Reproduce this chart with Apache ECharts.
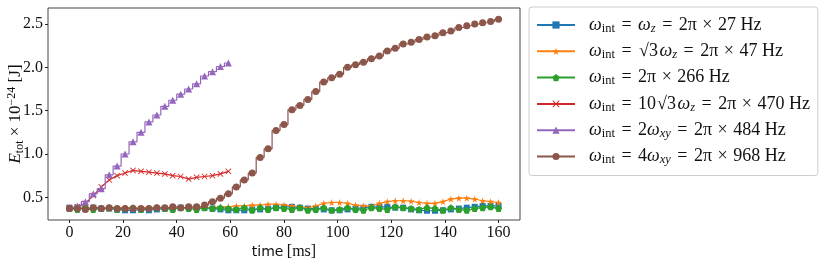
<!DOCTYPE html>
<html><head><meta charset="utf-8">
<script src="https://cdn.jsdelivr.net/npm/echarts@6/dist/echarts.min.js"></script>
<style>html,body{margin:0;padding:0;background:#fff}#c{width:830px;height:261px}</style>
</head><body><div id="c"></div>
<script>
// time grid (ms) of the marked samples
const times = [0,2.96,5.93,8.89,11.85,14.81,17.78,20.74,23.70,26.67,29.63,32.59,35.56,38.52,41.48,44.44,47.41,50.37,53.33,56.30,59.26,62.22,65.19,68.15,71.11,74.07,77.04,80.00,82.96,85.93,88.89,91.85,94.81,97.78,100.74,103.70,106.67,109.63,112.59,115.56,118.52,121.48,124.44,127.41,130.37,133.33,136.30,139.26,142.22,145.19,148.15,151.11,154.07,157.04,160.00];
const xTicks = [0,20,40,60,80,100,120,140,160];
const yTicks = [0.5,1.0,1.5,2.0,2.5];

const blue = [0.38,0.38,0.37,0.38,0.37,0.37,0.36,0.35,0.35,0.36,0.35,0.36,0.37,0.37,0.38,0.38,0.38,0.38,0.37,0.36,0.35,0.35,0.35,0.36,0.36,0.37,0.38,0.39,0.39,0.38,0.37,0.37,0.36,0.35,0.35,0.36,0.37,0.38,0.39,0.39,0.39,0.38,0.38,0.36,0.35,0.345,0.345,0.35,0.36,0.37,0.38,0.39,0.40,0.40,0.40];
const orange = [0.38,0.38,0.37,0.38,0.38,0.37,0.38,0.38,0.37,0.38,0.38,0.38,0.38,0.38,0.38,0.38,0.38,0.38,0.38,0.39,0.39,0.40,0.40,0.41,0.41,0.42,0.42,0.41,0.40,0.39,0.38,0.40,0.43,0.44,0.44,0.43,0.41,0.40,0.40,0.43,0.45,0.46,0.46,0.455,0.44,0.43,0.43,0.45,0.48,0.49,0.49,0.48,0.46,0.45,0.44];
const green = [0.37,0.36,0.38,0.36,0.37,0.38,0.36,0.37,0.38,0.36,0.37,0.38,0.37,0.36,0.38,0.37,0.36,0.38,0.37,0.38,0.37,0.36,0.38,0.35,0.38,0.36,0.38,0.37,0.36,0.38,0.35,0.36,0.38,0.35,0.36,0.38,0.36,0.35,0.38,0.37,0.36,0.39,0.38,0.37,0.36,0.38,0.37,0.35,0.38,0.36,0.35,0.37,0.38,0.39,0.37];
const red = [0.38,0.39,0.43,0.52,0.62,0.70,0.75,0.78,0.81,0.80,0.79,0.78,0.77,0.75,0.74,0.71,0.73,0.74,0.75,0.77,0.80];
const purple = [0.38,0.40,0.45,0.54,0.60,0.76,0.86,1.00,1.14,1.25,1.37,1.45,1.55,1.62,1.69,1.75,1.81,1.90,1.95,2.01,2.05];
const brown = [0.37,0.37,0.36,0.38,0.37,0.38,0.37,0.37,0.37,0.37,0.37,0.38,0.38,0.39,0.38,0.39,0.39,0.41,0.45,0.49,0.54,0.62,0.70,0.78,0.96,1.06,1.27,1.34,1.51,1.56,1.63,1.72,1.83,1.88,1.92,2.00,2.03,2.06,2.10,2.13,2.19,2.22,2.27,2.29,2.32,2.35,2.365,2.40,2.42,2.46,2.48,2.50,2.515,2.53,2.555];

const names = ['s1','s2','s3','s4','s5','s6'];
const legendText = {
  s1: '{i|ω}{s|int}{o|=}{i|ω}{s2|z}{o|=}{r|2π}{x|×}{r|27 Hz}',
  s2: '{i|ω}{s|int}{o|=}{q|√3}{i|ω}{s2|z}{o|=}{r|2π}{x|×}{r|47 Hz}',
  s3: '{i|ω}{s|int}{o|=}{r|2π}{x|×}{r|266 Hz}',
  s4: '{i|ω}{s|int}{o|=}{r|10}{q|√3}{i|ω}{s2|z}{o|=}{r|2π}{x|×}{r|470 Hz}',
  s5: '{i|ω}{s|int}{o|=}{r|2}{i|ω}{s2|xy}{o|=}{r|2π}{x|×}{r|484 Hz}',
  s6: '{i|ω}{s|int}{o|=}{r|4}{i|ω}{s2|xy}{o|=}{r|2π}{x|×}{r|968 Hz}'
};
const colors = ['#1f77b4','#ff7f0e','#2ca02c','#d62728','#9467bd','#8c564b'];
const symbols = [
  'rect',
  'path://M50,0 L61,35 L98,35 L68,57 L79,91 L50,70 L21,91 L32,57 L2,35 L39,35 Z',
  'path://M50,0 L98,35 L79,91 L21,91 L2,35 Z',
  'path://M0,1 L1,0 L5,4 L9,0 L10,1 L6,5 L10,9 L9,10 L5,6 L1,10 L0,9 L4,5 Z',
  'triangle',
  'circle'
];
const sizes = [6,7,7,6,7,7];
const stepped = [false,false,false,false,'middle','middle'];
const values = [blue, orange, green, red, purple, brown];

const serif = 'Liberation Serif';
const txt = '#111';
const chart = echarts.init(document.getElementById('c'), null, {renderer:'canvas'});
chart.setOption({
  animation:false,
  grid:{left:48,right:310,top:8,bottom:41,containLabel:false,outerBoundsMode:'none',
    show:true,borderColor:'#444',borderWidth:1,backgroundColor:'transparent'},
  xAxis:{type:'value',min:-8,max:168,
    axisLine:{show:false,onZero:false},splitLine:{show:false},
    axisTick:{show:true,customValues:xTicks,length:3,lineStyle:{color:'#222'}},
    axisLabel:{customValues:xTicks,fontFamily:serif,fontSize:16,color:txt,margin:5},
    name:'{a|time} {b|[ms]}',nameLocation:'middle',nameGap:24,nameMoveOverlap:false,
    nameTextStyle:{rich:{a:{fontFamily:'DejaVu Sans',fontSize:14,color:txt},b:{fontFamily:serif,fontSize:16,color:txt}}}
  },
  yAxis:{type:'value',min:0.238,max:2.685,
    axisLine:{show:false,onZero:false},splitLine:{show:false},
    axisTick:{show:true,customValues:yTicks,length:3,lineStyle:{color:'#222'}},
    axisLabel:{customValues:yTicks,fontFamily:serif,fontSize:16,color:txt,margin:5,formatter:v=>v.toFixed(1)},
    name:'{e|E}{s|tot}{r| × 10}{p|−24}{r| [J]}',nameLocation:'middle',nameRotate:90,nameGap:22,nameMoveOverlap:false,
    nameTextStyle:{rich:{
      e:{fontFamily:serif,fontStyle:'italic',fontSize:17,color:txt,lineHeight:20},
      s:{fontFamily:serif,fontSize:12,color:txt,lineHeight:12,verticalAlign:'bottom'},
      r:{fontFamily:serif,fontSize:17,color:txt,lineHeight:20},
      p:{fontFamily:serif,fontSize:12,color:txt,lineHeight:12,verticalAlign:'top'}
    }}
  },
  legend:{orient:'vertical',left:529,top:7,
    itemWidth:38,itemHeight:9,itemGap:7.3,
    padding:[9,8,9,7],borderColor:'#ccc',borderWidth:1,borderRadius:3,
    data:names,
    formatter:n=>legendText[n],
    textStyle:{padding:[0,0,0,9],rich:{
      i:{fontFamily:serif,fontStyle:'italic',fontSize:18,color:txt,lineHeight:20},
      s:{fontFamily:serif,fontSize:12.5,color:txt,lineHeight:12,verticalAlign:'bottom'},
      s2:{fontFamily:serif,fontStyle:'italic',fontSize:12.5,color:txt,lineHeight:12,verticalAlign:'bottom'},
      r:{fontFamily:serif,fontSize:18,color:txt,lineHeight:20},
      q:{fontFamily:serif,fontSize:18,color:txt,lineHeight:20,padding:[0,1.5,0,1]},
      o:{fontFamily:serif,fontSize:18,color:txt,lineHeight:20,padding:[0,6.5,0,6.5]},
      x:{fontFamily:serif,fontSize:18,color:txt,lineHeight:20,padding:[0,5.5,0,5.5]}
    }}
  },
  series: values.map((arr,k)=>({
    name:names[k],type:'line',
    data:arr.map((v,i)=>[times[i],v]),
    color:colors[k],step:stepped[k],
    symbol:symbols[k],symbolSize:sizes[k],showAllSymbol:true,
    lineStyle:{width:1.2,color:colors[k]},
    itemStyle:{color:colors[k]},
    z:2+k
  }))
});
</script></body></html>
